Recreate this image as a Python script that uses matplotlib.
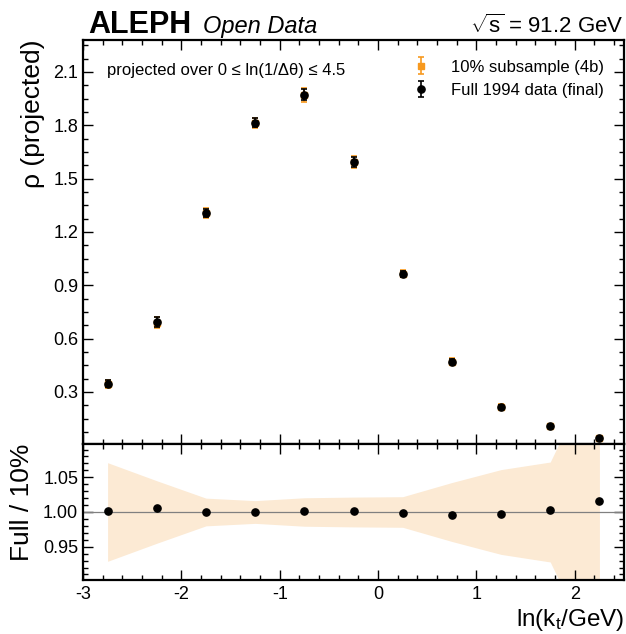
import matplotlib
matplotlib.use("Agg")
import matplotlib.pyplot as plt
from matplotlib.ticker import MultipleLocator, FormatStrFormatter
import numpy as np

plt.rcParams['font.family'] = ['Liberation Sans', 'DejaVu Sans']
plt.rcParams['mathtext.fontset'] = 'custom'
plt.rcParams['mathtext.rm'] = 'Liberation Sans'
plt.rcParams['mathtext.it'] = 'Liberation Sans:italic'

# ---- data ----
x_centers = [-2.75, -2.25, -1.75, -1.25, -0.75, -0.25, 0.25, 0.75, 1.25, 1.75, 2.25]
rho_full = [0.345, 0.694, 1.307, 1.814, 1.972, 1.594, 0.965, 0.469, 0.217, 0.110, 0.043]
rho_full_err = [0.020, 0.027, 0.022, 0.025, 0.032, 0.028, 0.017, 0.014, 0.009, 0.005, 0.004]
rho_sub = [0.3447, 0.6905, 1.307, 1.8131, 1.970, 1.5924, 0.966, 0.4709, 0.2177, 0.1097, 0.0423]
rho_sub_err = [0.0245, 0.0311, 0.0261, 0.0297, 0.0404, 0.0342, 0.0213, 0.0200, 0.0133, 0.0079, 0.0093]
x_ticks = [-3, -2, -1, 0, 1, 2]
y_ticks = [0.3, 0.6, 0.9, 1.2, 1.5, 1.8, 2.1]
r_ticks = [0.95, 1.00, 1.05]

xc = np.array(x_centers)
full = np.array(rho_full)
sub = np.array(rho_sub)
ratio = full / sub
band = np.array(rho_sub_err) / sub

W, H = 626, 634
fig = plt.figure(figsize=(W / 100, H / 100), dpi=100)
L, R = 83 / W, 624 / W
ax = fig.add_axes([L, 1 - 444 / H, R - L, (444 - 40) / H])
axr = fig.add_axes([L, 1 - 580 / H, R - L, (580 - 444) / H], sharex=ax)

orange = '#f7991f'
ax.errorbar(xc, sub, yerr=rho_sub_err, fmt='s', color=orange, ms=4,
            elinewidth=1.2, capsize=2.3, capthick=1.2, label='10% subsample (4b)', zorder=2)
ax.errorbar(xc, full, yerr=rho_full_err, fmt='o', color='black', ms=5.2,
            elinewidth=1.2, capsize=2.3, capthick=1.2, label='Full 1994 data (final)', zorder=3)

ax.set_xlim(-3, 2.5)
ax.set_ylim(0.007, 2.28)
ax.set_yticks(y_ticks)
ax.yaxis.set_major_formatter(FormatStrFormatter('%.1f'))
ax.yaxis.set_minor_locator(MultipleLocator(0.075))
ax.xaxis.set_minor_locator(MultipleLocator(0.2))
ax.set_ylabel('ρ (projected)', fontsize=19, y=1, ha='right')
ax.yaxis.set_label_coords(-0.07, 1)
plt.setp(ax.get_xticklabels(), visible=False)

leg = ax.legend(loc='upper right', frameon=False, fontsize=12, handletextpad=0.8,
                bbox_to_anchor=(0.975, 0.968), borderaxespad=0.0, labelspacing=0.5)
ax.text(0.045, 0.925, 'projected over 0 ≤ ln(1/Δθ) ≤ 4.5', transform=ax.transAxes,
        fontsize=12, va='center', ha='left')

# ratio panel
axr.fill_between(xc, 1 - band, 1 + band, color='#fcead4', lw=0, zorder=1)
axr.axhline(1.0, color='grey', lw=0.9, zorder=2)
axr.plot(xc, ratio, 'o', color='black', ms=5.2, zorder=3)
axr.set_ylim(0.902, 1.098)
axr.set_yticks(r_ticks)
axr.yaxis.set_major_formatter(FormatStrFormatter('%.2f'))
axr.yaxis.set_minor_locator(MultipleLocator(0.01))
axr.set_xticks(x_ticks)
axr.set_xticklabels([str(t) for t in x_ticks])
axr.set_ylabel('Full / 10%', fontsize=19, y=1, ha='right')
axr.yaxis.set_label_coords(-0.09, 1)
axr.set_xlabel(r'ln(k$_{\rm t}$/GeV)', fontsize=17.5, x=1, ha='right', labelpad=3)

for a in (ax, axr):
    a.tick_params(which='both', direction='in', top=True, right=True, labelsize=13)
    a.tick_params(which='major', length=7, width=1)
    a.tick_params(which='minor', length=3.5, width=1)
    for s in a.spines.values():
        s.set_linewidth(1.6)
axr.tick_params(axis='x', pad=4)

fig.text(88 / W, 1 - 33 / H, 'ALEPH', fontsize=22, fontweight='bold', ha='left', va='baseline')
fig.text(203 / W, 1 - 33 / H, 'Open Data', fontsize=17, fontstyle='italic', ha='left', va='baseline')
fig.text(R, 1 - 33 / H, r'$\sqrt{\rm s}$ = 91.2 GeV', fontsize=16, ha='right', va='baseline')

fig.savefig('out.png', dpi=100)
